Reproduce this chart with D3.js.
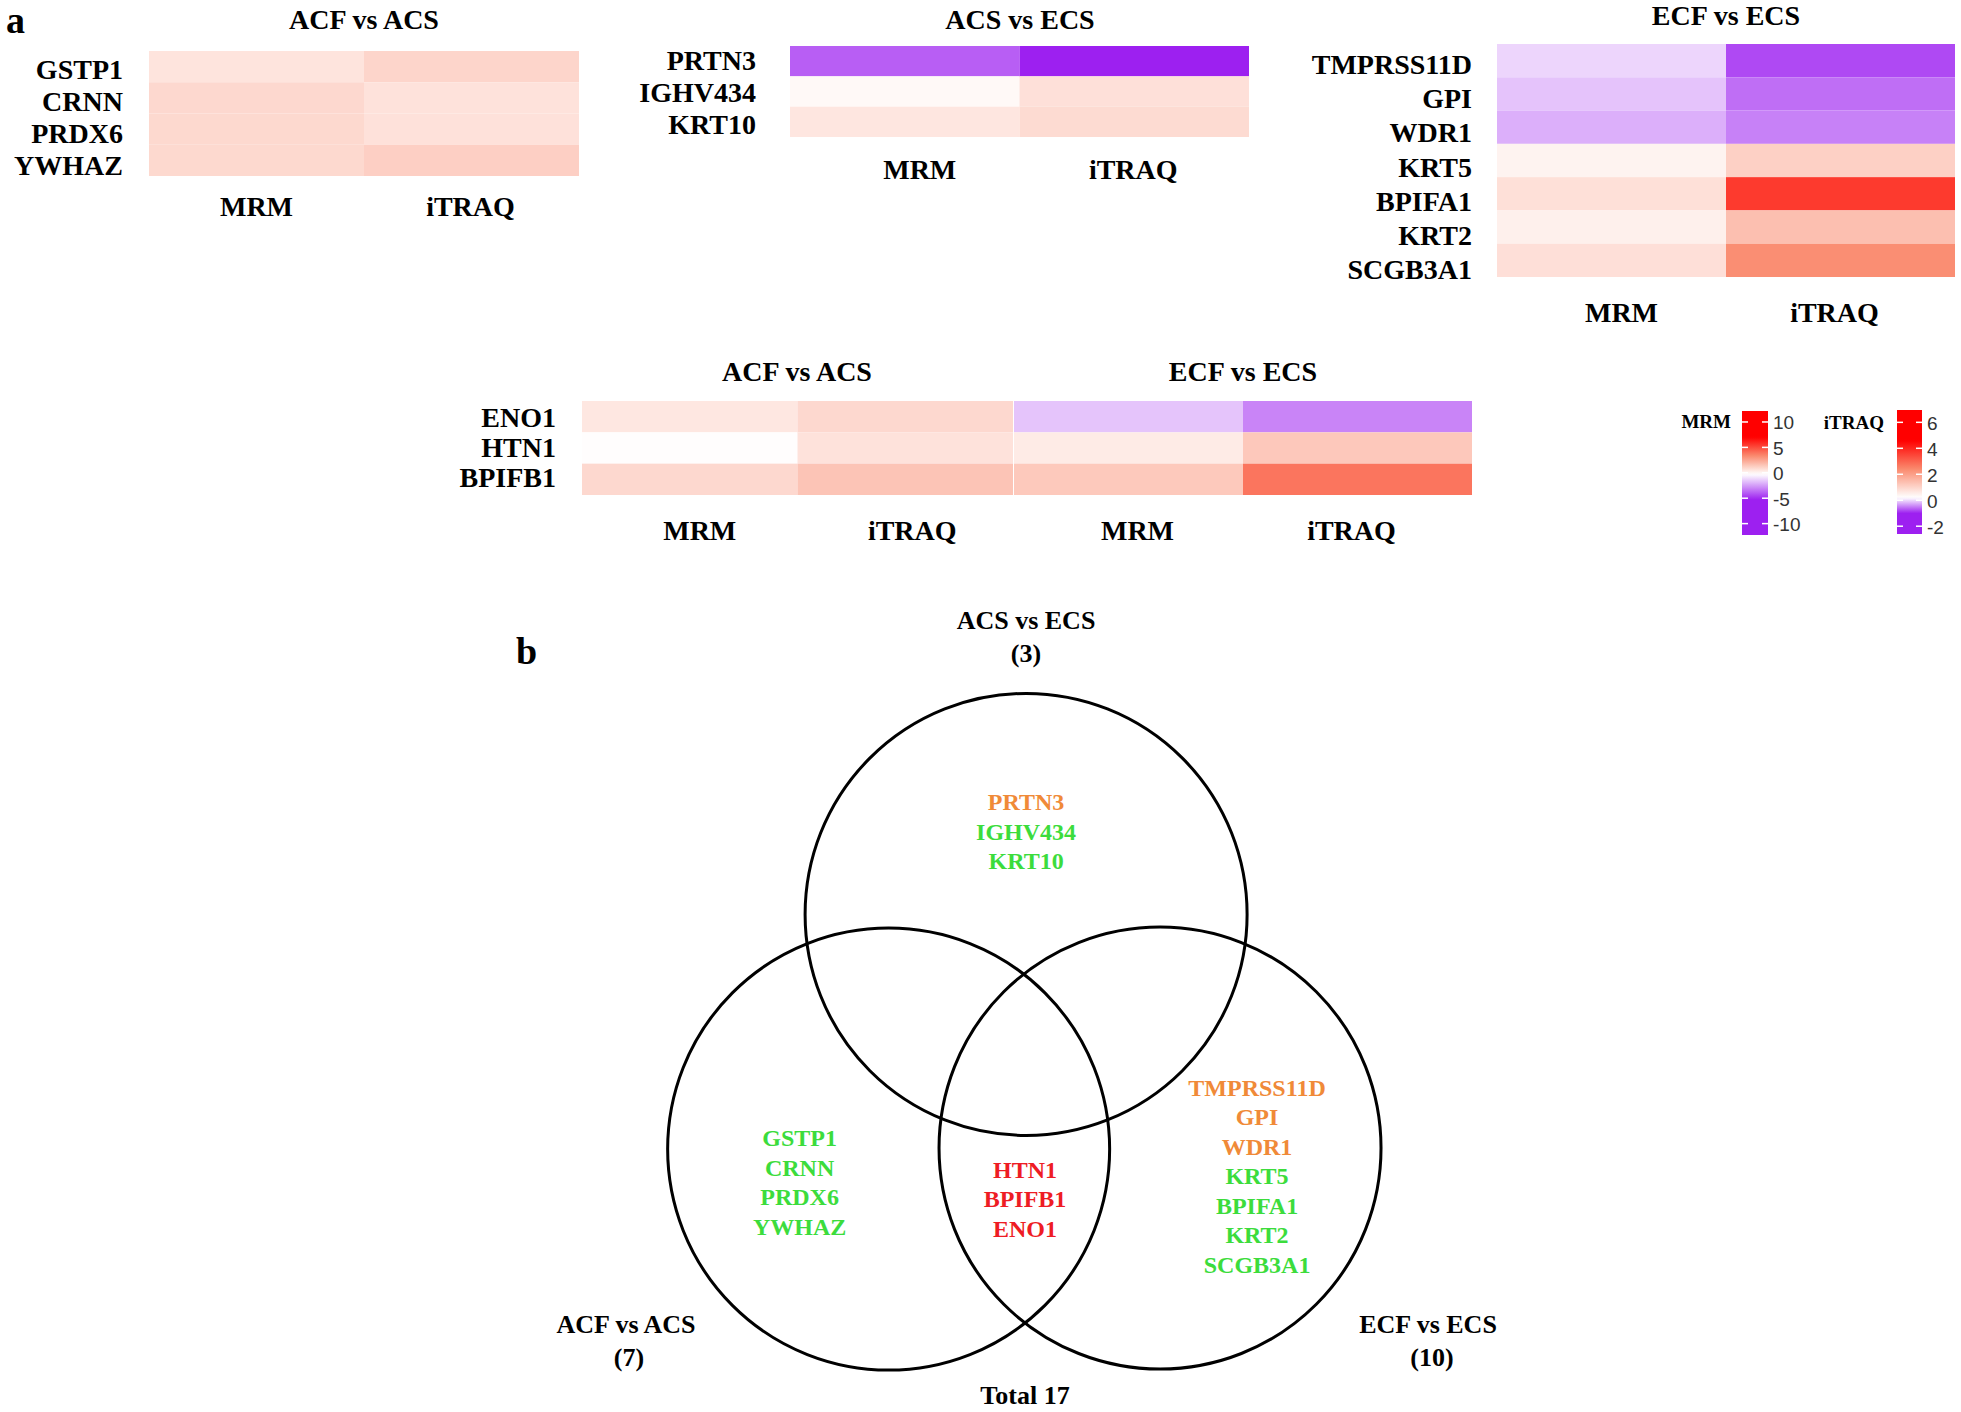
<!DOCTYPE html>
<html><head><meta charset="utf-8">
<script src="https://cdn.jsdelivr.net/npm/d3@7"></script>
<style>html,body{margin:0;padding:0;background:#fff;} svg{display:block;}</style>
</head><body>
<svg id="chart" width="1961" height="1412"></svg>
<script>
// ---------------- DATA ----------------
const methods = ["MRM", "iTRAQ"];

const acfAcsGenes = ["GSTP1", "CRNN", "PRDX6", "YWHAZ"];
const acfAcsMRM   = [0.55, 0.92, 0.90, 0.90];
const acfAcsITRAQ = [0.99, 0.75, 0.76, 1.10];

const acsEcsGenes = ["PRTN3", "IGHV434", "KRT10"];
const acsEcsMRM   = [-3.9, -0.1, 0.48];
const acsEcsITRAQ = [-2.1, 0.78, 0.88];

const ecfEcsGenes = ["TMPRSS11D", "GPI", "WDR1", "KRT5", "BPIFA1", "KRT2", "SCGB3A1"];
const ecfEcsMRM   = [-1.24, -1.64, -2.1, 0.08, 0.67, 0.17, 0.69];
const ecfEcsITRAQ = [-0.78, -0.58, -0.48, 1.08, 3.68, 1.40, 2.33];

const commonGenes       = ["ENO1", "HTN1", "BPIFB1"];
const commonAcfAcsMRM   = [0.45, -0.25, 0.92];
const commonAcfAcsITRAQ = [0.93, 0.75, 1.31];
const commonEcfEcsMRM   = [-1.62, 0.32, 1.38];
const commonEcfEcsITRAQ = [-0.46, 1.23, 2.73];

const mrmTicks   = [10, 5, 0, -5, -10];
const itraqTicks = [6, 4, 2, 0, -2];
const mrmRange   = [-12.24, 12.16];
const itraqRange = [-2.6, 6.95];

const vennSets   = ["ACF vs ACS", "ACS vs ECS", "ECF vs ECS"];
const vennCounts = [7, 3, 10];
const vennTotal  = 17;
const vennOnlyAcsEcs = ["PRTN3", "IGHV434", "KRT10"];
const vennOnlyAcsEcsStatus = ["down", "up", "up"];
const vennOnlyAcfAcs = ["GSTP1", "CRNN", "PRDX6", "YWHAZ"];
const vennOnlyAcfAcsStatus = ["up", "up", "up", "up"];
const vennShared = ["HTN1", "BPIFB1", "ENO1"];
const vennSharedStatus = ["shared", "shared", "shared"];
const vennOnlyEcfEcs = ["TMPRSS11D", "GPI", "WDR1", "KRT5", "BPIFA1", "KRT2", "SCGB3A1"];
const vennOnlyEcfEcsStatus = ["down", "down", "down", "up", "up", "up", "up"];

// ---------------- STYLE ----------------
const SERIF = "'Liberation Serif','Times New Roman',serif";
const SANS = "'Liberation Sans',Arial,sans-serif";
const PURPLE = "#9d20f0", WHITE = "#ffffff", SALMON = "#fa8a6e", RED = "#ff0000";
const statusColor = {down: "#f08a38", up: "#3cdc3c", shared: "#ee1c24"};

const mrmColor = d3.scaleLinear()
  .domain([mrmRange[0], -5.3, -0.3, 3.35, 7, mrmRange[1]])
  .range([PURPLE, PURPLE, WHITE, SALMON, RED, RED]).clamp(true);
const itraqColor = d3.scaleLinear()
  .domain([itraqRange[0], -1.0, 0.2, 2.4, 4.6, itraqRange[1]])
  .range([PURPLE, PURPLE, WHITE, SALMON, RED, RED]).clamp(true);

const svg = d3.select("#chart");
svg.append("rect").attr("width", 1961).attr("height", 1412).attr("fill", "#fff");

function txt(x, y, s, size, anchor, color, family, weight) {
  return svg.append("text").attr("x", x).attr("y", y)
    .attr("font-family", family || SERIF).attr("font-weight", weight || "bold")
    .attr("font-size", size).attr("text-anchor", anchor || "middle")
    .attr("dominant-baseline", "central").attr("fill", color || "#000").text(s);
}

// draw block of cells: cols = [{values, scale}]
function block(genes, cols, x0, x1, y0, y1) {
  const xb = d3.scaleBand().domain(d3.range(cols.length)).range([x0, x1]);
  const yb = d3.scaleBand().domain(genes).range([y0, y1]);
  const g = svg.append("g");
  cols.forEach((c, ci) => {
    g.selectAll(null).data(genes).enter().append("rect")
      .attr("x", xb(ci)).attr("width", xb.bandwidth())
      .attr("y", d => yb(d)).attr("height", yb.bandwidth())
      .attr("fill", (d, i) => c.scale(c.values[i]));
  });
  return {xb, yb};
}
function rowLabels(genes, range, xr, size) {
  const lb = d3.scaleBand().domain(genes).range(range);
  genes.forEach(gn => txt(xr, lb(gn) + lb.bandwidth() / 2, gn, size, "end"));
}
function colLabels(labels, xb, y, size, shifts) {
  labels.forEach((l, i) => txt(xb(i) + xb.bandwidth() / 2 + shifts[i], y, l, size, "middle"));
}

const FS = 28;
txt(6, 20, "a", 38, "start");

// Panel 1
{
  const {xb} = block(acfAcsGenes, [{values: acfAcsMRM, scale: mrmColor}, {values: acfAcsITRAQ, scale: itraqColor}], 149, 579, 51, 176);
  rowLabels(acfAcsGenes, [53, 181], 123, FS);
  colLabels(methods, xb, 206, FS, [0, -1]);
  txt(364, 19, "ACF vs ACS", FS);
}
// Panel 2
{
  const {xb} = block(acsEcsGenes, [{values: acsEcsMRM, scale: mrmColor}, {values: acsEcsITRAQ, scale: itraqColor}], 790, 1249, 46, 137);
  rowLabels(acsEcsGenes, [44, 140], 756, FS);
  colLabels(methods, xb, 169, FS, [15, -1]);
  txt(1020, 19, "ACS vs ECS", FS);
}
// Panel 3
{
  const {xb} = block(ecfEcsGenes, [{values: ecfEcsMRM, scale: mrmColor}, {values: ecfEcsITRAQ, scale: itraqColor}], 1497, 1955, 44, 277);
  rowLabels(ecfEcsGenes, [47, 287], 1472, FS);
  colLabels(methods, xb, 312, FS, [10, -6]);
  txt(1726, 15, "ECF vs ECS", FS);
}
// Panel 4
{
  const a = block(commonGenes, [{values: commonAcfAcsMRM, scale: mrmColor}, {values: commonAcfAcsITRAQ, scale: itraqColor}], 582, 1013, 401, 495);
  const b = block(commonGenes, [{values: commonEcfEcsMRM, scale: mrmColor}, {values: commonEcfEcsITRAQ, scale: itraqColor}], 1014, 1472, 401, 495);
  rowLabels(commonGenes, [402.5, 492.5], 556, FS);
  colLabels(methods, a.xb, 530, FS, [10, 7]);
  colLabels(methods, b.xb, 530, FS, [9, -6]);
  txt(797, 371, "ACF vs ACS", FS);
  txt(1243, 371, "ECF vs ECS", FS);
}

// Legends
const defs = svg.append("defs");
function legend(id, title, scale, range, ticks, titleRight, barX, barW, y0, y1) {
  const y = d3.scaleLinear().domain(range).range([y1, y0]);
  const grad = defs.append("linearGradient").attr("id", id)
    .attr("x1", 0).attr("y1", 1).attr("x2", 0).attr("y2", 0);
  d3.range(0, 61).forEach(i => {
    const v = range[0] + (range[1] - range[0]) * i / 60;
    grad.append("stop").attr("offset", i / 60).attr("stop-color", scale(v));
  });
  svg.append("rect").attr("x", barX).attr("y", y0).attr("width", barW).attr("height", y1 - y0)
    .attr("fill", `url(#${id})`);
  ticks.forEach(t => {
    svg.append("line").attr("x1", barX).attr("x2", barX + 6).attr("y1", y(t)).attr("y2", y(t))
      .attr("stroke", "#fff").attr("stroke-width", 1.5);
    svg.append("line").attr("x1", barX + barW - 6).attr("x2", barX + barW).attr("y1", y(t)).attr("y2", y(t))
      .attr("stroke", "#fff").attr("stroke-width", 1.5);
    txt(barX + barW + 5, y(t) + 1, t, 19, "start", "#333", SANS, "normal");
  });
  txt(titleRight, y(ticks[0]), title, 19, "end");
}
legend("gMRM", "MRM", mrmColor, mrmRange, mrmTicks, 1731, 1742, 26, 411, 535);
legend("gITRAQ", "iTRAQ", itraqColor, itraqRange, itraqTicks, 1884, 1897, 25, 410, 534);

// ---------------- Venn ----------------
txt(516, 651, "b", 38, "start");
const vx = d3.scaleLinear().domain([-1, 1]).range([804, 1246]);
const vy = d3.scaleLinear().domain([-1, 1]).range([849, 1291]);
const vr = (vx(1) - vx(-1)) / 2;
const vennCircles = [
  {set: vennSets[0], cx: -0.617, cy: 0.358},
  {set: vennSets[1], cx: 0.005, cy: -0.704},
  {set: vennSets[2], cx: 0.611, cy: 0.353}
];
svg.selectAll("circle.venn").data(vennCircles).enter().append("circle")
  .attr("cx", d => vx(d.cx)).attr("cy", d => vy(d.cy)).attr("r", vr)
  .attr("fill", "none").attr("stroke", "#000").attr("stroke-width", 3);

function geneList(genes, status, cx, cy) {
  const lh = 29.5;
  const start = vy(cy) - (genes.length - 1) * lh / 2;
  genes.forEach((gn, i) => txt(vx(cx), start + i * lh, gn, 24, "middle", statusColor[status[i]]));
}
geneList(vennOnlyAcsEcs, vennOnlyAcsEcsStatus, 0.005, -1.078);
geneList(vennOnlyAcfAcs, vennOnlyAcfAcsStatus, -1.02, 0.51);
geneList(vennShared, vennSharedStatus, 0.0, 0.585);
geneList(vennOnlyEcfEcs, vennOnlyEcfEcsStatus, 1.05, 0.48);

const VF = 26;
txt(1026, 620, vennSets[1], VF); txt(1026, 653, `(${vennCounts[1]})`, VF);
txt(626, 1324, vennSets[0], VF); txt(629, 1357, `(${vennCounts[0]})`, VF);
txt(1428, 1324, vennSets[2], VF); txt(1432, 1357, `(${vennCounts[2]})`, VF);
txt(1025, 1395, `Total ${vennTotal}`, VF);
</script>
</body></html>
